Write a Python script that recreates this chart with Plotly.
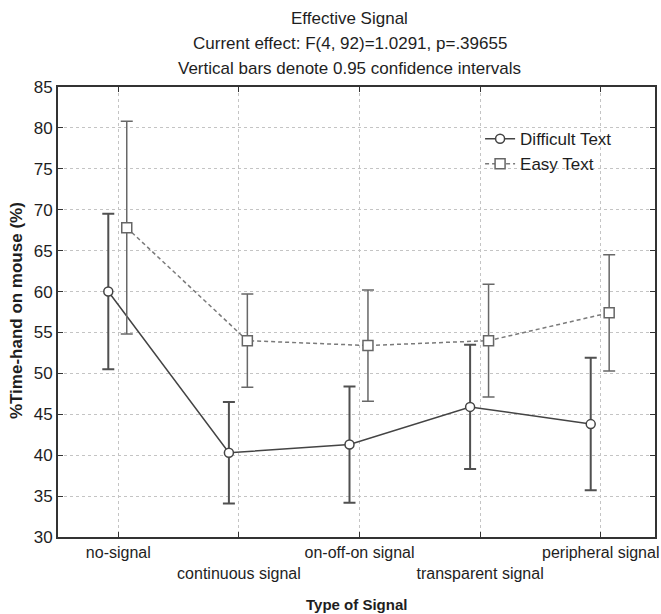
import plotly.graph_objects as go

categories = ["no-signal", "continuous signal", "on-off-on signal", "transparent signal", "peripheral signal"]
difficult_mean = [60.0, 40.3, 41.3, 45.9, 43.8]
difficult_ci = [9.5, 6.2, 7.1, 7.6, 8.1]
easy_mean = [67.8, 54.0, 53.4, 54.0, 57.4]
easy_ci = [13.0, 5.7, 6.8, 6.9, 7.1]
y_ticks = [30, 35, 40, 45, 50, 55, 60, 65, 70, 75, 80, 85]

idx = list(range(len(categories)))
x_diff = [i - 0.083 for i in idx]
x_easy = [i + 0.07 for i in idx]

FONT = "Liberation Sans, Arial, sans-serif"
TXT = "#1e1e1e"

fig = go.Figure()
fig.add_trace(go.Scatter(
    x=x_diff, y=difficult_mean, mode="lines+markers", name="Difficult Text",
    line=dict(color="#444444", width=1.5),
    marker=dict(symbol="circle", size=9, color="white", line=dict(color="#444444", width=1.5)),
    error_y=dict(type="data", array=difficult_ci, color="#505050", thickness=2, width=6),
))
fig.add_trace(go.Scatter(
    x=x_easy, y=easy_mean, mode="lines+markers", name="Easy Text",
    line=dict(color="#7a7a7a", width=1.5, dash="4px,3px"),
    marker=dict(symbol="square", size=10, color="white", line=dict(color="#666666", width=1.5)),
    error_y=dict(type="data", array=easy_ci, color="#686868", thickness=1.5, width=6),
))

ticktext = [c if i % 2 == 0 else "<br>" + c for i, c in enumerate(categories)]

fig.update_layout(
    width=661, height=614,
    margin=dict(l=58, r=6, t=87, b=77),
    paper_bgcolor="white", plot_bgcolor="white",
    font=dict(family=FONT, size=17, color=TXT),
    showlegend=True,
    legend=dict(x=0.707, y=0.924, xanchor="left", yanchor="top", bgcolor="rgba(255,255,255,0)",
                font=dict(size=17, color=TXT), itemwidth=30),
    xaxis=dict(
        range=[-0.5, 4.45], tickvals=idx, ticktext=ticktext, tickangle=0, automargin=False,
        showgrid=True, gridcolor="#c4c4c4", griddash="dot", gridwidth=1,
        showline=True, linecolor="#333333", linewidth=2, mirror="ticks",
        ticks="inside", ticklen=5, tickcolor="#333333", zeroline=False,
        tickfont=dict(size=16),
    ),
    yaxis=dict(
        range=[30, 85], tickvals=y_ticks, automargin=False,
        showgrid=True, gridcolor="#c4c4c4", griddash="dot", gridwidth=1,
        showline=True, linecolor="#333333", linewidth=2, mirror="ticks",
        ticks="inside", ticklen=5, tickcolor="#333333", zeroline=False,
        tickfont=dict(size=17),
    ),
)

titles = ["Effective Signal", "Current effect: F(4, 92)=1.0291, p=.39655",
          "Vertical bars denote 0.95 confidence intervals"]
title_y = [18, 43, 68]
for t, ty in zip(titles, title_y):
    fig.add_annotation(text=t, xref="paper", yref="paper", x=0.489, y=1,
                       yshift=87 - ty, showarrow=False,
                       font=dict(size=17, color=TXT), yanchor="middle")

# axis titles
fig.add_annotation(text="<b>Type of Signal</b>", xref="paper", yref="paper", x=0.5, y=0,
                   yshift=-(604 - 537), showarrow=False, yanchor="middle",
                   font=dict(size=15, color=TXT))
fig.add_annotation(text="<b>%Time-hand on mouse (%)</b>", xref="paper", yref="paper",
                   x=0, xshift=-(58 - 16), y=0.502, textangle=-90, showarrow=False,
                   xanchor="center", yanchor="middle", font=dict(size=17, color=TXT))

fig.write_html("out.html", config={"displayModeBar": False},
               post_script="document.body.style.margin='0';document.body.style.overflow='hidden';")
